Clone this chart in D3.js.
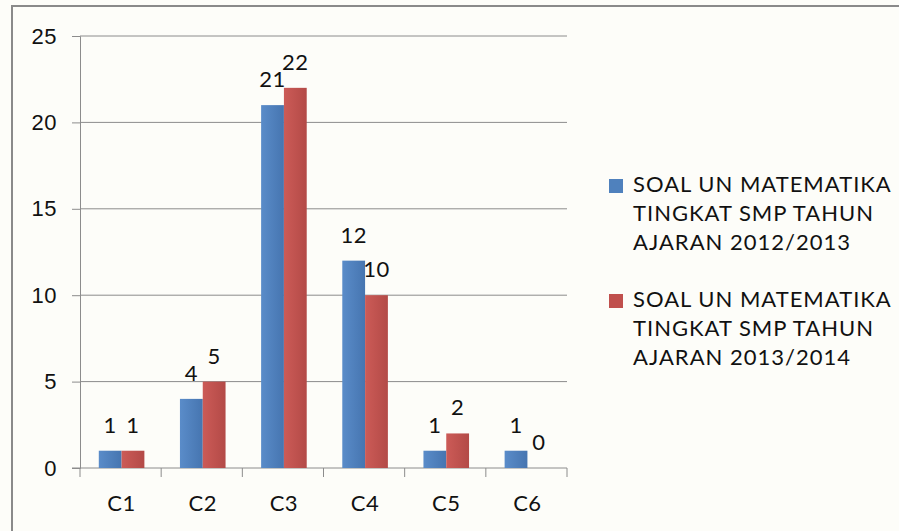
<!DOCTYPE html>
<html>
<head>
<meta charset="utf-8">
<script src="https://cdn.jsdelivr.net/npm/d3@7"></script>
<style>
  body { margin: 0; background: #fdfdf9; }
  svg { display: block; font-family: Lato, "Open Sans", sans-serif; }
</style>
</head>
<body>
<div class="chart"></div>
<script>
// data
const categories = ["C1", "C2", "C3", "C4", "C5", "C6"];
const seriesNames = [
  ["SOAL UN MATEMATIKA", "TINGKAT SMP TAHUN", "AJARAN 2012/2013"],
  ["SOAL UN MATEMATIKA", "TINGKAT SMP TAHUN", "AJARAN 2013/2014"]
];
const values2012 = [1, 4, 21, 12, 1, 1];
const values2013 = [1, 5, 22, 10, 2, 0];
const yTicks = [0, 5, 10, 15, 20, 25];
const colors = ["#4f81bd", "#c0504d"];

const svgWidth = 899, svgHeight = 531;
const plot = { left: 80, right: 567, top: 36, bottom: 468 };

const svg = d3.select("div.chart")
  .append("svg")
  .attr("width", svgWidth)
  .attr("height", svgHeight);

// gradients for the bars
const defs = svg.append("defs");
const grads = [["#5a8cc9", "#4675b0"], ["#cc5b57", "#b34a47"]];
grads.forEach(function (g, i) {
  const lg = defs.append("linearGradient")
    .attr("id", "grad" + i)
    .attr("x1", "0").attr("x2", "1").attr("y1", "0").attr("y2", "0");
  lg.append("stop").attr("offset", "0%").attr("stop-color", g[0]);
  lg.append("stop").attr("offset", "100%").attr("stop-color", g[1]);
});

// outer border
svg.append("path")
  .attr("d", "M12,531 V6 H899")
  .attr("fill", "none")
  .attr("stroke", "#8a8a8a")
  .attr("stroke-width", 2);

const x = d3.scaleBand()
  .domain(categories)
  .range([plot.left, plot.right])
  .paddingInner(0)
  .paddingOuter(0);

const barW = 22.8;
const y = d3.scaleLinear()
  .domain([0, 25])
  .range([plot.bottom, plot.top]);

// gridlines
svg.append("g")
  .selectAll("line")
  .data(yTicks.slice(1))
  .enter()
  .append("line")
  .attr("x1", plot.left)
  .attr("x2", plot.right)
  .attr("y1", function (d) { return y(d); })
  .attr("y2", function (d) { return y(d); })
  .attr("stroke", "#8c8c8c")
  .attr("stroke-width", 1);

// y axis
const yAxis = d3.axisLeft(y).tickValues(yTicks).tickSize(8).tickPadding(15);
const gy = svg.append("g")
  .attr("transform", "translate(" + plot.left + ",0)")
  .call(yAxis);
gy.selectAll("path, line").attr("stroke", "#8c8c8c");
gy.selectAll("text")
  .style("font-size", "22px")
  .style("letter-spacing", "0.5px")
  .attr("fill", "#111");

// x axis with ticks at category boundaries
svg.append("line")
  .attr("x1", plot.left - 8).attr("x2", plot.right)
  .attr("y1", y(0)).attr("y2", y(0))
  .attr("stroke", "#8c8c8c");
const bounds = categories.map(function (c) { return x(c); }).concat([plot.right]);
svg.append("g")
  .selectAll("line")
  .data(bounds)
  .enter()
  .append("line")
  .attr("x1", function (d) { return d; })
  .attr("x2", function (d) { return d; })
  .attr("y1", y(0))
  .attr("y2", y(0) + 9)
  .attr("stroke", "#8c8c8c");
svg.append("g")
  .selectAll("text")
  .data(categories)
  .enter()
  .append("text")
  .attr("x", function (d) { return x(d) + x.bandwidth() / 2 + 1; })
  .attr("y", 511)
  .attr("text-anchor", "middle")
  .style("font-size", "22px")
  .style("letter-spacing", "0.5px")
  .attr("fill", "#111")
  .text(function (d) { return d; });

// bars
const series = [values2012, values2013];
series.forEach(function (vals, si) {
  const bx = function (d, i) {
    return x(categories[i]) + x.bandwidth() / 2 + 1 - barW + si * barW;
  };
  svg.append("g")
    .selectAll("rect")
    .data(vals)
    .enter()
    .append("rect")
    .attr("x", bx)
    .attr("y", function (d) { return y(d); })
    .attr("width", barW)
    .attr("height", function (d) { return y(0) - y(d); })
    .attr("fill", "url(#grad" + si + ")");

  svg.append("g")
    .selectAll("text")
    .data(vals)
    .enter()
    .append("text")
    .attr("x", function (d, i) { return bx(d, i) + barW / 2; })
    .attr("y", function (d) { return y(d) - 18; })
    .attr("text-anchor", "middle")
    .style("font-size", "22px")
    .style("letter-spacing", "0.5px")
    .attr("fill", "#111")
    .text(function (d) { return d; });
});

// legend
const legend = svg.append("g");
seriesNames.forEach(function (lines, si) {
  const top = 192 + si * 115;
  legend.append("rect")
    .attr("x", 609)
    .attr("y", top - 13)
    .attr("width", 14)
    .attr("height", 14)
    .attr("fill", colors[si]);
  legend.append("g")
    .selectAll("text")
    .data(lines)
    .enter()
    .append("text")
    .attr("x", 633)
    .attr("y", function (d, i) { return top + i * 29; })
    .style("font-size", "22px")
    .style("letter-spacing", "1px")
    .attr("fill", "#111")
    .text(function (d) { return d; });
});
</script>
</body>
</html>
